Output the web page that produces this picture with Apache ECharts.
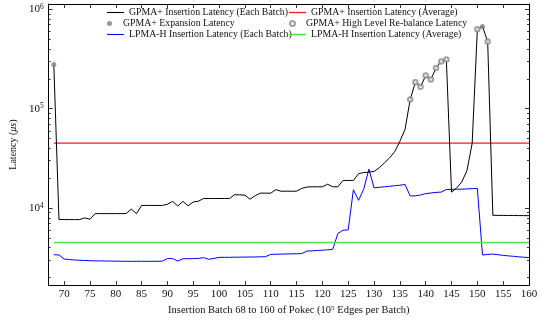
<!DOCTYPE html>
<html>
<head>
<meta charset="utf-8">
<script src="https://cdn.jsdelivr.net/npm/echarts@6/dist/echarts.min.js"></script>
<style>
  html, body { margin: 0; padding: 0; background: #fff; }
  #chart { width: 546px; height: 321px; }
</style>
</head>
<body>
<div id="chart"></div>
<script>
// Insertion batches 68..160 of the Pokec stream
const batches = [
  68, 69, 70, 71, 72, 73, 74, 75, 76, 77,
  78, 79, 80, 81, 82, 83, 84, 85, 86, 87,
  88, 89, 90, 91, 92, 93, 94, 95, 96, 97,
  98, 99, 100, 101, 102, 103, 104, 105, 106, 107,
  108, 109, 110, 111, 112, 113, 114, 115, 116, 117,
  118, 119, 120, 121, 122, 123, 124, 125, 126, 127,
  128, 129, 130, 131, 132, 133, 134, 135, 136, 137,
  138, 139, 140, 141, 142, 143, 144, 145, 146, 147,
  148, 149, 150, 151, 152, 153, 154, 155, 156, 157,
  158, 159, 160
];

// GPMA+ insertion latency per batch (microseconds)
const gpmaLatency = [
  278000, 7700, 7680, 7670, 7660, 7680, 7980, 7730, 8810, 8810,
  8810, 8810, 8810, 8810, 8810, 9800, 8810, 10660, 10650, 10640,
  10640, 10650, 10950, 11700, 10500, 11700, 10550, 11550, 11750, 12500,
  12500, 12500, 12500, 12500, 12500, 13650, 13600, 13500, 12300, 13350,
  14150, 14150, 14150, 15350, 14800, 14800, 14800, 14800, 15800, 16300,
  16400, 16400, 16400, 17400, 16400, 16400, 19000, 19000, 19000, 22200,
  22800, 23000, 23400, 25500, 28500, 32000, 37000, 47000, 62000, 124000,
  185000, 166000, 216000, 197000, 257000, 299000, 312000, 14500, 16000, 18400,
  24000, 45000, 631000, 670000, 474000, 8470, 8460, 8450, 8440, 8430,
  8420, 8410, 8400
];

// LPMA-H insertion latency per batch (microseconds)
const lpmaLatency = [
  3400, 3380, 3080, 3040, 3010, 2990, 2975, 2960, 2950, 2945,
  2940, 2935, 2930, 2925, 2920, 2920, 2920, 2920, 2920, 2920,
  2920, 2930, 3110, 3110, 2940, 3100, 3100, 3110, 3120, 3180,
  3060, 3120, 3200, 3200, 3205, 3210, 3215, 3220, 3225, 3230,
  3240, 3250, 3430, 3440, 3450, 3460, 3470, 3480, 3490, 3700,
  3720, 3750, 3780, 3810, 3850, 5560, 6000, 6050, 15300, 12000,
  15500, 24700, 16000, 16200, 16400, 16600, 16800, 17000, 17300, 13250,
  13300, 13550, 14000, 14200, 14400, 14500, 15400, 15450, 15500, 15550,
  15600, 15700, 15800, 3380, 3420, 3450, 3400, 3350, 3310, 3280,
  3240, 3210, 3180
];

// Averages over the whole range
const gpmaAverage = 45100;
const lpmaAverage = 4520;
const avgSpan = [68, 160];

// Batches that triggered an expansion / a high-level re-balance
const expansionBatches = [68, 151];
const expansionLatency = [278000, 670000];
const rebalanceBatches = [137, 138, 139, 140, 141, 142, 143, 144, 150, 152];
const rebalanceLatency = [124000, 185000, 166000, 216000, 197000, 257000, 299000, 312000, 631000, 474000];

// Axis ticks
const xTicks = [70, 75, 80, 85, 90, 95, 100, 105, 110, 115, 120, 125, 130, 135, 140, 145, 150, 155, 160];
const yMajorTicks = [10000, 100000, 1000000];
const yMinorTicks = [
  2000, 3000, 4000, 5000, 6000, 7000, 8000, 9000,
  20000, 30000, 40000, 50000, 60000, 70000, 80000, 90000,
  200000, 300000, 400000, 500000, 600000, 700000, 800000, 900000
];

const FONT = 'Liberation Serif';
const X_MIN = 67, X_MAX = 160;
const Y_MIN = 1683, Y_MAX = 1130000;

const pairs = (xs, ys) => xs.map((x, i) => [x, ys[i]]);

const S_BLACK = 'GPMA+ Insertion Latency (Each Batch)';
const S_RED = 'GPMA+ Insertion Latency (Average)';
const S_EXP = 'GPMA+ Expansion Latency';
const S_REB = 'GPMA+ High Level Re-balance Latency';
const S_BLUE = 'LPMA-H Insertion Latency (Each Batch)';
const S_GREEN = 'LPMA-H Insertion Latency (Average)';

function xAxisDef(position, withLabels) {
  const ax = {
    type: 'value', position: position, min: X_MIN, max: X_MAX,
    axisLine: { show: true, onZero: false, lineStyle: { color: '#000', width: 1 } },
    axisTick: { show: true, inside: true, length: 4, customValues: xTicks, lineStyle: { color: '#000', width: 0.8 } },
    axisLabel: { show: withLabels, customValues: xTicks, fontFamily: FONT, fontSize: 11, color: '#111', margin: 4 },
    splitLine: { show: false }
  };
  if (withLabels) {
    ax.name = 'Insertion Batch 68 to 160 of Pokec (10{s|5} Edges per Batch)';
    ax.nameLocation = 'middle';
    ax.nameGap = 18;
    ax.nameTextStyle = {
      fontFamily: FONT, fontSize: 10.5, color: '#111',
      rich: { s: { fontFamily: FONT, fontSize: 7, color: '#111', verticalAlign: 'top', lineHeight: 7 } }
    };
  }
  return ax;
}

function yAxisDef(position, ticks, len, withLine, withLabels) {
  const ax = {
    type: 'log', logBase: 10, position: position, min: Y_MIN, max: Y_MAX,
    axisLine: { show: withLine, onZero: false, lineStyle: { color: '#000', width: 1 } },
    axisTick: { show: true, inside: true, length: len, customValues: ticks, lineStyle: { color: '#000', width: 0.8 } },
    axisLabel: { show: withLabels },
    splitLine: { show: false },
    minorTick: { show: false }
  };
  if (withLabels) {
    ax.axisLabel = {
      show: true, customValues: yMajorTicks, margin: 5,
      formatter: v => '{b|10}{s|' + Math.round(Math.log10(v)) + '}',
      rich: {
        b: { fontFamily: FONT, fontSize: 11, color: '#111', lineHeight: 13 },
        s: { fontFamily: FONT, fontSize: 7.5, color: '#111', verticalAlign: 'top', lineHeight: 8 }
      }
    };
    ax.name = 'Latency ({i|μs})';
    ax.nameLocation = 'middle';
    ax.nameGap = 23;
    ax.nameRotate = 90;
    ax.nameTextStyle = {
      fontFamily: FONT, fontSize: 10, color: '#111',
      rich: { i: { fontFamily: FONT, fontSize: 10, fontStyle: 'italic', color: '#111' } }
    };
  }
  return ax;
}

// One legend entry per component so every row/column sits exactly where it should
function legendEntry(name, left, top, icon, h) {
  return {
    left: left, top: top, padding: 0,
    itemWidth: 17, itemHeight: h, selectedMode: false,
    data: [{ name: name, icon: icon }],
    textStyle: { fontFamily: FONT, fontSize: 9.8, color: '#111', lineHeight: 11 }
  };
}

const option = {
  animation: false,
  backgroundColor: '#fff',
  grid: { left: 44, right: 17, top: 4, bottom: 34, containLabel: false },
  legend: [
    legendEntry(S_BLACK, 107, 7, 'rect', 1.1),
    legendEntry(S_EXP, 107, 18, 'circle', 5),
    legendEntry(S_BLUE, 107, 29, 'rect', 1.1),
    legendEntry(S_RED, 289, 7, 'rect', 1.3),
    legendEntry(S_REB, 289, 18, 'emptyCircle', 5),
    legendEntry(S_GREEN, 289, 29, 'rect', 1.6)
  ],
  xAxis: [xAxisDef('bottom', true), xAxisDef('top', false)],
  yAxis: [
    yAxisDef('left', yMajorTicks, 4, true, true),
    yAxisDef('right', yMajorTicks, 4, true, false),
    yAxisDef('left', yMinorTicks, 2, false, false),
    yAxisDef('right', yMinorTicks, 2, false, false)
  ],
  series: [
    {
      name: S_BLACK, type: 'line', data: pairs(batches, gpmaLatency),
      symbol: 'none', lineStyle: { color: '#000', width: 1 }, itemStyle: { color: '#000' }, z: 3
    },
    {
      name: S_RED, type: 'line', data: avgSpan.map(x => [x, gpmaAverage]),
      symbol: 'none', lineStyle: { color: '#ff1a1a', width: 1.3 }, itemStyle: { color: '#ff1a1a' }, z: 2
    },
    {
      name: S_BLUE, type: 'line', data: pairs(batches, lpmaLatency),
      symbol: 'none', lineStyle: { color: '#0000ff', width: 1 }, itemStyle: { color: '#0000ff' }, z: 2
    },
    {
      name: S_GREEN, type: 'line', data: avgSpan.map(x => [x, lpmaAverage]),
      symbol: 'none', lineStyle: { color: '#4de84d', width: 1.6 }, itemStyle: { color: '#4de84d' }, z: 2
    },
    {
      name: S_EXP, type: 'scatter', data: pairs(expansionBatches, expansionLatency),
      symbol: 'circle', symbolSize: 5, itemStyle: { color: '#808080' }, z: 5
    },
    {
      name: S_REB, type: 'scatter', data: pairs(rebalanceBatches, rebalanceLatency),
      symbol: 'emptyCircle', symbolSize: 4.5,
      itemStyle: { color: '#8a8a8a', borderColor: '#8a8a8a', borderWidth: 0.9 }, z: 5
    }
  ]
};

const chart = echarts.init(document.getElementById('chart'), null, { renderer: 'canvas' });
chart.setOption(option);
</script>
</body>
</html>
